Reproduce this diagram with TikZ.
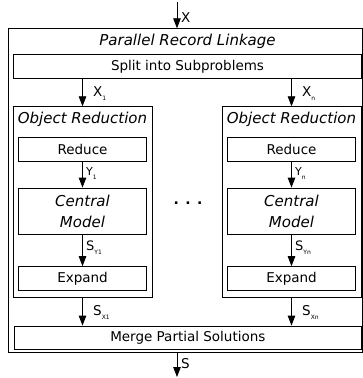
\documentclass[tikz,border=0pt]{standalone}
\usepackage{fontspec}
\setmainfont{DejaVu Sans}
\usetikzlibrary{arrows.meta}
\newcommand\lowsub[1]{\raisebox{-4pt}{\fontsize{6}{6}\selectfont #1}}
\begin{document}
\begin{tikzpicture}[x=1pt,y=-1pt,
  box/.style={draw=black, line width=0.8pt, inner sep=0pt, minimum height=24pt},
  plain/.style={font=\fontsize{13.5}{16}\selectfont},
  ital/.style={font=\fontsize{15}{21}\selectfont\itshape},
  arr/.style={line width=0.8pt, -{Triangle[length=10pt,width=7.5pt]}},
  lbl/.style={inner sep=0pt, anchor=base west},
  biglbl/.style={lbl, font=\fontsize{13.5}{14}\selectfont},
  smalllbl/.style={lbl, font=\fontsize{11}{11}\selectfont}]
\useasboundingbox (0,0) rectangle (363,378);

% outer frame and its title
\node[box, minimum width=354.5pt, minimum height=323.6pt] (outer) at (185.25,190.5) {};
\node[ital] (title) at (187.5,41.5) {Parallel Record Linkage};
\node[box, plain, minimum width=347.5pt] (split) at (187.5,66.3) {Split into Subproblems};

% left object reduction
\node[box, minimum width=139pt, minimum height=190.3pt] (orl) at (82.5,201.85) {};
\node[ital] (orltitle) at (82.5,119) {Object Reduction};
\node[box, plain, minimum width=128.3pt] (redl) at (82.5,149) {Reduce};
\node[box, ital, minimum width=128.3pt, minimum height=46pt, align=center] (cenl) at (82.5,211) {Central\\Model};
\node[box, plain, minimum width=128.3pt] (expl) at (82.5,278.6) {Expand};

% right object reduction
\node[box, minimum width=139pt, minimum height=190.3pt] (orr) at (291.5,201.85) {};
\node[ital] (orrtitle) at (291.5,119) {Object Reduction};
\node[box, plain, minimum width=128.3pt] (redr) at (291.5,149) {Reduce};
\node[box, ital, minimum width=128.3pt, minimum height=46pt, align=center] (cenr) at (291.5,211) {Central\\Model};
\node[box, plain, minimum width=128.3pt] (expr) at (291.5,278.6) {Expand};

\node[font=\fontsize{14}{14}\selectfont\bfseries] (dots) at (188,203) {. . .};

\node[box, plain, minimum width=347.7pt, minimum height=23.5pt] (merge) at (187.85,337.75) {Merge Partial Solutions};

% input and output
\coordinate (src) at (177,2);
\coordinate (snk) at (177,377);
\draw[arr] (src) -- (src |- outer.north);
\draw[arr] (outer.south -| snk) -- (snk);
\node[biglbl] (xlbl) at (181,22) {X};
\node[biglbl] (slbl) at (181,368) {S};

% flows through each branch
\draw[arr] (split.south -| orl.north) -- (orl.north);
\draw[arr] (redl) -- (cenl);
\draw[arr] (cenl) -- (expl);
\draw[arr] (orl.south) -- (orl.south |- merge.north);
\draw[arr] (split.south -| orr.north) -- (orr.north);
\draw[arr] (redr) -- (cenr);
\draw[arr] (cenr) -- (expr);
\draw[arr] (orr.south) -- (orr.south |- merge.north);

\node[biglbl] (x1) at (93,96) {X\lowsub{1}};
\node[biglbl] (xn) at (302,96) {X\lowsub{n}};
\node[smalllbl] (y1) at (86,175) {Y\lowsub{1}};
\node[smalllbl] (yn) at (295,175) {Y\lowsub{n}};
\node[lbl, font=\fontsize{13}{13}\selectfont] (sy1) at (86,250) {S\lowsub{Y1}};
\node[lbl, font=\fontsize{13}{13}\selectfont] (syn) at (295,250) {S\lowsub{Yn}};
\node[biglbl] (sx1) at (93,315) {S\lowsub{X1}};
\node[biglbl] (sxn) at (302,315) {S\lowsub{Xn}};
\end{tikzpicture}
\end{document}
